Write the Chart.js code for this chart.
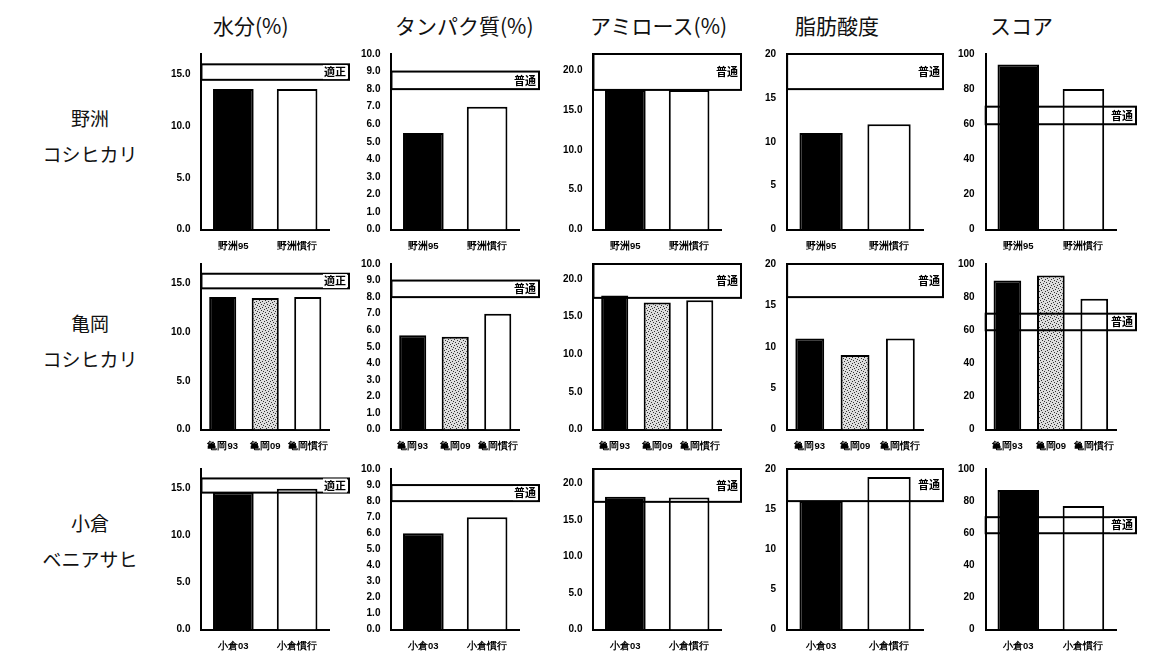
<!DOCTYPE html>
<html><head><meta charset="utf-8">
<script src="https://cdn.jsdelivr.net/npm/chart.js@4.4.0/dist/chart.umd.min.js"></script>
<style>
body{margin:0;background:#fff;width:1149px;height:659px;position:relative;overflow:hidden;font-family:"Noto Sans CJK JP",sans-serif;}
.box{position:absolute;}
.hdr{position:absolute;top:10px;font-size:21px;color:#111;}
.rlab{position:absolute;left:40px;width:100px;text-align:center;font-size:19px;line-height:36px;color:#111;}
</style></head><body>
<div class="hdr" style="left:213px">水分(%)</div>
<div class="hdr" style="left:395px">タンパク質(%)</div>
<div class="hdr" style="left:590px">アミロース(%)</div>
<div class="hdr" style="left:795px">脂肪酸度</div>
<div class="hdr" style="left:990px">スコア</div>
<div class="rlab" style="top:100px">野洲<br>コシヒカリ</div>
<div class="rlab" style="top:305px">亀岡<br>コシヒカリ</div>
<div class="rlab" style="top:505px">小倉<br>ベニアサヒ</div>
<script>
// categories per row
const rowLabels = [
  ['野洲95', '野洲慣行'],
  ['亀岡93', '亀岡09', '亀岡慣行'],
  ['小倉03', '小倉慣行']
];
// values per metric, per row
const water   = [[13.6, 13.6], [13.6, 13.5, 13.6], [14.5, 14.9]];
const protein = [[5.5, 7.0], [5.7, 5.6, 7.0], [6.0, 7.0]];
const amylose = [[17.5, 17.5], [17.8, 16.9, 17.2], [18.2, 18.1]];
const fatAcid = [[11, 12], [11, 9, 11], [16, 19]];
const score   = [[94, 80], [90, 93, 79], [87, 77]];
// axis settings and reference bands
const axisMax   = [17, 10, 22, 20, 100];
const axisStep  = [5, 1, 5, 5, 20];
const axisDec   = [1, 1, 1, 0, 0];
const bandLow   = [14.5, 8, 17.5, 16, 60];
const bandHigh  = [16, 9, 22, 20, 70];
const bandText  = ['適正', '普通', '普通', '普通', '普通'];

const metrics = [water, protein, amylose, fatAcid, score];
const colLeft = [168, 358, 560, 762, 955];
const rowTop = [45, 255, 460];
const rowH = [210, 200, 195];

function dotPattern() {
  const c = document.createElement('canvas');
  c.width = 6; c.height = 6;
  const g = c.getContext('2d');
  g.fillStyle = '#ddd'; g.fillRect(0, 0, 6, 6);
  g.fillStyle = '#333';
  [[0,0],[3,1],[1,3],[4,4],[2,5],[5,2]].forEach(p => g.fillRect(p[0], p[1], 1, 1));
  return g.createPattern(c, 'repeat');
}

const bandPlugin = {
  id: 'band',
  afterDatasetsDraw(chart, args, opts) {
    const ctx = chart.ctx, y = chart.scales.y, a = chart.chartArea;
    const top = y.getPixelForValue(opts.high), bot = y.getPixelForValue(opts.low);
    const right = a.right + 20;
    ctx.save();
    ctx.strokeStyle = '#000'; ctx.lineWidth = 2;
    ctx.strokeRect(a.left, top, right - a.left, bot - top);
    ctx.font = 'bold 11px "Noto Sans CJK JP"';
    ctx.textAlign = 'right'; ctx.textBaseline = 'middle';
    ctx.fillStyle = '#fff';
    const tw = ctx.measureText(opts.text).width;
    ctx.fillRect(right - tw - 4, (top + bot) / 2 - 7, tw + 2, 14);
    ctx.fillStyle = '#000';
    ctx.fillText(opts.text, right - 3, (top + bot) / 2);
    ctx.restore();
  }
};

const pat = dotPattern();
for (let r = 0; r < 3; r++) {
  for (let m = 0; m < 5; m++) {
    const div = document.createElement('div');
    div.className = 'box';
    div.style.left = colLeft[m] + 'px';
    div.style.top = rowTop[r] + 'px';
    div.style.width = '185px';
    div.style.height = rowH[r] + 'px';
    const cv = document.createElement('canvas');
    div.appendChild(cv);
    document.body.appendChild(div);
    const n = rowLabels[r].length;
    const fills = n === 3 ? ['#000', pat, '#fff'] : ['#000', '#fff'];
    const step = axisStep[m];
    new Chart(cv, {
      type: 'bar',
      data: {
        labels: rowLabels[r],
        datasets: [{
          data: metrics[m][r],
          backgroundColor: fills,
          borderColor: '#000',
          borderWidth: 2,
          borderSkipped: 'bottom',
          barPercentage: 0.75,
          categoryPercentage: 0.85
        }]
      },
      options: {
        responsive: true, maintainAspectRatio: false, animation: false,
        layout: { padding: { right: 24, top: 4 } },
        plugins: {
          legend: { display: false }, tooltip: { enabled: false },
          band: { low: bandLow[m], high: bandHigh[m], text: bandText[m] }
        },
        scales: {
          x: {
            grid: { display: false },
            border: { color: '#000', width: 2 },
            ticks: { color: '#000', font: { size: 9.5, weight: 'bold' }, maxRotation: 0, autoSkip: false }
          },
          y: {
            min: 0, max: axisMax[m],
            afterBuildTicks: ax => { ax.ticks = ax.ticks.filter(t => Math.abs(t.value / step - Math.round(t.value / step)) < 1e-6); },
            grid: { display: false },
            border: { color: '#000', width: 2 },
            ticks: {
              stepSize: step, color: '#000',
              font: { size: 10, weight: 'bold' },
              callback: v => v.toFixed(axisDec[m])
            }
          }
        }
      },
      plugins: [bandPlugin]
    });
  }
}
</script>
</body></html>
